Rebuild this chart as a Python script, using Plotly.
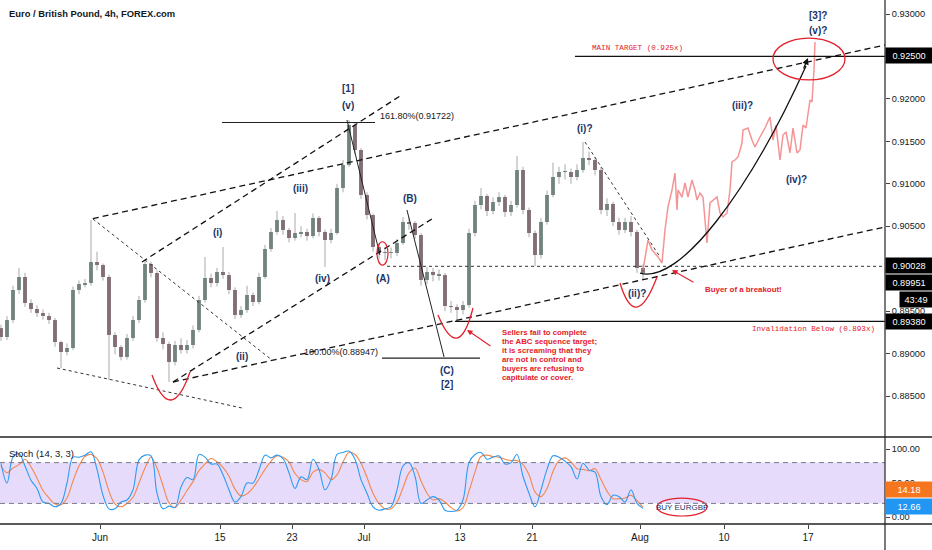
import plotly.graph_objects as go

# ---------------- data ----------------
# x axis in trading days, 0 = Mon 1 Jun
tick_vals = [0, 10, 16, 22, 30, 36, 45, 52, 59]
tick_text = ["Jun", "15", "23", "Jul", "13", "21", "Aug", "10", "17"]

bar_start = -8.25   # first (12h) bar
bar_step = 0.5

first_open = 0.89300
closes = [0.89195, 0.89395, 0.89749, 0.89902, 0.89596, 0.89525, 0.89478, 0.89443, 0.89395, 0.89136,
          0.89018, 0.89066, 0.89749, 0.89819, 0.89831, 0.90079, 0.90043, 0.89902, 0.89219, 0.89077,
          0.88960, 0.89183, 0.89395, 0.89631, 0.90055, 0.89949, 0.89183, 0.89113, 0.88901, 0.89101,
          0.89042, 0.89101, 0.89278, 0.89631, 0.89890, 0.89831, 0.89961, 0.89925, 0.89749, 0.89454,
          0.89513, 0.89690, 0.89607, 0.89902, 0.90232, 0.90432, 0.90573, 0.90456, 0.90361, 0.90420,
          0.90432, 0.90385, 0.90597, 0.90432, 0.90338, 0.90420, 0.90950, 0.91221, 0.91692, 0.91398,
          0.90868, 0.90632, 0.90255, 0.90185, 0.90185, 0.90185, 0.90302, 0.90550, 0.90538, 0.90397,
          0.89867, 0.89961, 0.89925, 0.89925, 0.89560, 0.89549, 0.89513, 0.89572, 0.90420, 0.90750,
          0.90856, 0.90679, 0.90785, 0.90844, 0.90668, 0.90750, 0.91162, 0.90691, 0.90420, 0.90161,
          0.90550, 0.90868, 0.91080, 0.91139, 0.91139, 0.91080, 0.91162, 0.91304, 0.91280, 0.91162,
          0.90691, 0.90762, 0.90550, 0.90456, 0.90550, 0.90432, 0.90008, 0.89951]
highs = [0.89340, 0.89440, 0.89800, 0.90008, 0.89950, 0.89640, 0.89570, 0.89520, 0.89480, 0.89420,
         0.89150, 0.89120, 0.89790, 0.89860, 0.89880, 0.90573, 0.90200, 0.90060, 0.89930, 0.89250,
         0.89100, 0.89230, 0.89440, 0.89680, 0.90102, 0.90080, 0.89980, 0.89250, 0.89140, 0.89150,
         0.89180, 0.89160, 0.89330, 0.89680, 0.90138, 0.89940, 0.90010, 0.90255, 0.89960, 0.89780,
         0.89560, 0.89800, 0.89720, 0.89950, 0.90280, 0.90480, 0.90680, 0.90620, 0.90480, 0.90656,
         0.90500, 0.90470, 0.90650, 0.90620, 0.90460, 0.90470, 0.91000, 0.91280, 0.91751, 0.91720,
         0.91420, 0.90900, 0.90650, 0.90300, 0.90260, 0.90250, 0.90350, 0.90609, 0.90600, 0.90560,
         0.90420, 0.90020, 0.90010, 0.89990, 0.89950, 0.89620, 0.89580, 0.89620, 0.90470, 0.90800,
         0.90950, 0.90880, 0.90840, 0.90900, 0.90870, 0.90800, 0.91330, 0.91200, 0.90720, 0.90450,
         0.90600, 0.90920, 0.91250, 0.91200, 0.91230, 0.91180, 0.91230, 0.91492, 0.91380, 0.91320,
         0.91200, 0.90830, 0.90790, 0.90600, 0.90600, 0.90620, 0.90460, 0.90050]
lows = [0.89150, 0.89160, 0.89360, 0.89700, 0.89550, 0.89480, 0.89430, 0.89400, 0.89350, 0.89080,
        0.88830, 0.88980, 0.89040, 0.89700, 0.89780, 0.89800, 0.89980, 0.89860, 0.88689, 0.88990,
        0.88920, 0.88930, 0.89150, 0.89360, 0.89600, 0.89900, 0.89140, 0.89050, 0.88665, 0.88860,
        0.89000, 0.89000, 0.89060, 0.89250, 0.89600, 0.89780, 0.89790, 0.89880, 0.89700, 0.89407,
        0.89420, 0.89480, 0.89560, 0.89580, 0.89880, 0.90200, 0.90400, 0.90400, 0.90310, 0.90330,
        0.90370, 0.90330, 0.90360, 0.90380, 0.90020, 0.90300, 0.90400, 0.90900, 0.91200, 0.91350,
        0.90820, 0.90580, 0.90200, 0.90110, 0.90100, 0.90120, 0.90150, 0.90280, 0.90460, 0.90350,
        0.89800, 0.89820, 0.89850, 0.89860, 0.89500, 0.89480, 0.89385, 0.89460, 0.89540, 0.90380,
        0.90700, 0.90620, 0.90640, 0.90740, 0.90610, 0.90620, 0.90720, 0.90640, 0.90370, 0.90028,
        0.90120, 0.90520, 0.90840, 0.91000, 0.91050, 0.91000, 0.91040, 0.91130, 0.91220, 0.91100,
        0.90640, 0.90620, 0.90500, 0.90400, 0.90420, 0.90380, 0.89950, 0.89867]

# projected path (pink)
proj_x = [45.25, 45.667, 46.0, 46.25, 46.5, 46.833, 47.083, 47.333, 47.667, 47.917, 48.083, 48.167,
          48.5, 48.75, 49.0, 49.333, 49.583, 49.75, 50.0, 50.25, 50.583, 50.833, 51.083, 51.417,
          51.667, 51.917, 52.25, 52.5, 52.667, 52.917, 53.167, 53.5, 53.583, 54.0, 54.333, 54.583,
          55.0, 55.417, 55.833, 56.083, 56.333, 56.667, 56.917, 57.167, 57.5, 57.75, 58.083, 58.333,
          58.583, 58.833, 59.167, 59.333, 59.5, 59.583]
proj_y = [0.89984, 0.90338, 0.90220, 0.90185, 0.90138, 0.90067, 0.90456, 0.90727, 0.90927, 0.91127,
          0.90691, 0.90927, 0.90844, 0.91009, 0.90844, 0.91045, 0.90927, 0.90809, 0.90891, 0.90844,
          0.90303, 0.90774, 0.90809, 0.90844, 0.90656, 0.90609, 0.90656, 0.90927, 0.91257, 0.91280,
          0.91316, 0.91480, 0.91634, 0.91657, 0.91516, 0.91433, 0.91551, 0.91657, 0.91787, 0.91516,
          0.91692, 0.91280, 0.91575, 0.91610, 0.91363, 0.91657, 0.91363, 0.91398, 0.91692, 0.91657,
          0.91987, 0.91963, 0.92340, 0.92670]

stoch_k = [79, 50, 88, 93, 75, 54, 42, 22, 20, 15,
           20, 50, 88, 88, 91, 96, 70, 32, 12, 12,
           22, 25, 40, 84, 91, 90, 35, 12, 16, 14,
           44, 58, 55, 92, 88, 78, 78, 62, 40, 22,
           30, 50, 50, 69, 91, 87, 91, 86, 65, 42,
           59, 55, 85, 70, 40, 55, 92, 95, 97, 85,
           55, 35, 15, 10, 12, 15, 40, 75, 80, 60,
           20, 25, 30, 25, 10, 8, 10, 25, 80, 92,
           95, 85, 88, 90, 78, 80, 92, 60, 35, 15,
           40, 70, 90, 88, 82, 74, 56, 79, 69, 66,
           30, 18, 32, 30, 22, 40, 20, 12.66]
stoch_d = [75, 65, 72, 77, 85, 74, 57, 39, 28, 19,
           18, 28, 53, 75, 89, 92, 86, 66, 38, 19,
           15, 20, 29, 50, 72, 88, 72, 46, 21, 14,
           25, 39, 52, 68, 78, 86, 81, 73, 60, 41,
           31, 34, 43, 56, 70, 82, 90, 88, 81, 64,
           55, 52, 66, 70, 65, 55, 62, 81, 95, 92,
           79, 58, 35, 20, 12, 12, 22, 43, 65, 72,
           53, 35, 25, 27, 22, 14, 9, 14, 38, 66,
           89, 91, 89, 88, 85, 83, 83, 77, 62, 37,
           30, 42, 67, 83, 87, 81, 71, 70, 68, 71,
           55, 38, 27, 27, 28, 32, 24, 14.18]

# ---------------- build ----------------
bars_x = [bar_start + bar_step * i for i in range(len(closes))]
opens = [first_open] + closes[:-1]

navy = "#1b3568"
red = "#e3202b"
txt = "#131722"
FONT = "Liberation Sans"

fig = go.Figure()

# wicks
wx, wy = [], []
for x, h, l in zip(bars_x, highs, lows):
    wx += [x, x, None]
    wy += [l, h, None]
fig.add_trace(go.Scatter(x=wx, y=wy, mode="lines", line=dict(color="#a9a9ae", width=1),
                         hoverinfo="skip", xaxis="x", yaxis="y"))

up_x, up_b, up_h, dn_x, dn_b, dn_h = [], [], [], [], [], []
for x, o, c in zip(bars_x, opens, closes):
    b = min(o, c)
    h = max(abs(c - o), 0.00005)
    if c >= o:
        up_x.append(x); up_b.append(b); up_h.append(h)
    else:
        dn_x.append(x); dn_b.append(b); dn_h.append(h)
fig.add_trace(go.Bar(x=up_x, y=up_h, base=up_b, width=0.28, marker=dict(color="#3f5a51", line=dict(width=0)),
                     xaxis="x", yaxis="y"))
fig.add_trace(go.Bar(x=dn_x, y=dn_h, base=dn_b, width=0.28, marker=dict(color="#56363d", line=dict(width=0)),
                     xaxis="x", yaxis="y"))

# projection
fig.add_trace(go.Scatter(x=proj_x, y=proj_y, mode="lines",
                         line=dict(color="rgba(240,112,112,0.75)", width=1.5),
                         xaxis="x", yaxis="y"))

# stochastic
fig.add_trace(go.Scatter(x=bars_x, y=stoch_d, mode="lines", line=dict(color="#f4874b", width=1.1, shape="spline"),
                         xaxis="x2", yaxis="y2"))
fig.add_trace(go.Scatter(x=bars_x, y=stoch_k, mode="lines", line=dict(color="#2e9bf0", width=1.1, shape="spline"),
                         xaxis="x2", yaxis="y2"))

shapes = []


def seg(x0, y0, x1, y1, dash=None, width=1.2, color="#111", xref="x", yref="y"):
    d = dict(type="line", x0=x0, y0=y0, x1=x1, y1=y1, xref=xref, yref=yref,
             line=dict(color=color, width=width))
    if dash:
        d["line"]["dash"] = dash
    shapes.append(d)


DASH = "6px,4px"
# dashed channel lines
seg(-0.6, 0.9059, 65.42, 0.92635, DASH, 1.3)
seg(3.5, 0.90079, 25.0, 0.92034, DASH, 1.3)
seg(6.083, 0.88665, 27.917, 0.90609, DASH, 1.3)
seg(6.083, 0.88665, 65.42, 0.90491, DASH, 1.3)
# dotted lines
seg(-0.583, 0.90585, 14.333, 0.88924, "dot", 1, "#333")
seg(-3.583, 0.88830, 11.833, 0.88359, "dot", 1, "#333")
seg(23.917, 0.90028, 65.42, 0.90028, "dot", 1, "#333")
seg(40.417, 0.91492, 46.667, 0.90138, "dot", 1, "#333")
# solid levels / wave legs
seg(10.17, 0.91722, 22.92, 0.91722, None, 1.2, "#222")
seg(23.5, 0.88947, 31.67, 0.88947, None, 1.2, "#222")
seg(39.58, 0.925, 65.42, 0.925, None, 1.3, "#111")
seg(29.58, 0.8938, 65.42, 0.8938, None, 1.3, "#111")
seg(20.58, 0.91751, 23.33, 0.90161, None, 1, "#222")
seg(25.58, 0.90691, 28.67, 0.88960, None, 1, "#222")

# black projected arrow curve
shapes.append(dict(type="path", xref="x", yref="y",
                   path="M 45,0.89949 C 48.333,0.89808 54.167,0.90927 58.833,0.92388",
                   line=dict(color="#111", width=1.3)))
# red smiles
for p in ["M 4.333,0.88748 Q 5.917,0.88141 7.5,0.88783",
          "M 28.167,0.89454 Q 29.875,0.88871 31.083,0.89537",
          "M 43.333,0.89831 Q 44.625,0.89230 46.417,0.89902"]:
    shapes.append(dict(type="path", xref="x", yref="y", path=p, line=dict(color=red, width=1.3)))
# red ellipses
shapes.append(dict(type="circle", xref="x", yref="y", x0=23.083, x1=24.0, y0=0.90043, y1=0.90317,
                   line=dict(color=red, width=1.2)))
shapes.append(dict(type="circle", xref="x", yref="y", x0=56.083, x1=62.083, y0=0.92223, y1=0.92717,
                   line=dict(color=red, width=1.3)))
shapes.append(dict(type="circle", xref="x2", yref="y2", x0=46.417, x1=50.583, y0=1.5, y1=27.9,
                   line=dict(color=red, width=1.2)))

# stoch band
shapes.append(dict(type="rect", xref="x2 domain", yref="y2", x0=0, x1=1, y0=20, y1=80,
                   fillcolor="rgba(160,110,245,0.25)", line=dict(width=0), layer="below"))
for lv in (20, 80):
    shapes.append(dict(type="line", xref="x2 domain", yref="y2", x0=0, x1=1, y0=lv, y1=lv,
                       line=dict(color="#787b86", width=1, dash="5px,4px")))

# frame lines
shapes.append(dict(type="line", xref="paper", yref="paper", x0=1, x1=1, y0=-0.06, y1=1,
                   line=dict(color="#333", width=1.3)))
for yy in (0.166, 0.0):
    shapes.append(dict(type="line", xref="paper", yref="paper", x0=0, x1=1.06, y0=yy, y1=yy,
                       line=dict(color="#222", width=1.5)))

ann = []


def label(x, y, text, size=10.5, color=navy, xanchor="center", yanchor="middle", family=FONT, xref="x", yref="y"):
    ann.append(dict(x=x, y=y, text=text, showarrow=False, xref=xref, yref=yref, xanchor=xanchor,
                    yanchor=yanchor, font=dict(family=family, size=size, color=color)))


# wave labels
for x, y, t in [(20.667, 0.92117, "[1]"), (20.667, 0.91928, "(v)"), (9.833, 0.90432, "(i)"),
                (11.833, 0.88960, "(ii)"), (16.667, 0.90950, "(iii)"), (18.583, 0.89890, "(iv)"),
                (23.583, 0.89890, "(A)"), (25.833, 0.90821, "(B)"), (28.917, 0.88806, "(C)"),
                (28.917, 0.88630, "[2]"), (40.417, 0.91657, "(i)?"), (44.75, 0.89713, "(ii)?"),
                (53.5, 0.91928, "(iii)?"), (58.0, 0.91045, "(iv)?"), (59.833, 0.92800, "(v)?"),
                (59.833, 0.92977, "[3]?")]:
    label(x, y, "<b>" + t + "</b>", size=10)

label(23.167, 0.91799, "161.80%(0.91722)", size=9, color=txt, xanchor="left")
label(23.333, 0.89018, "100.00%(0.88947)", size=9, color=txt, xanchor="right")
label(40.833, 0.92600, "MAIN TARGET (0.925x)", size=7.6, color=red, xanchor="left", family="Liberation Mono")
label(64.75, 0.89290, "Invalidation Below (0.893x)", size=7.6, color=red, xanchor="right", family="Liberation Mono")

sellers = ["Sellers fail to complete", "the ABC sequence target;", "it is screaming that they",
           "are not in control and", "buyers are refusing to", "capitulate or cover."]
sell_y = [0.89254, 0.89148, 0.89042, 0.88936, 0.88830, 0.88724]
for t, y in zip(sellers, sell_y):
    label(33.333, y, "<b>" + t + "</b>", size=7.8, color=red, xanchor="left")
label(50.25, 0.89749, "<b>Buyer of a breakout!</b>", size=7.9, color=red, xanchor="left")

# red arrows
ann.append(dict(x=30.583, y=0.89278, xref="x", yref="y", ax=25, ay=17, showarrow=True, text="",
                arrowhead=2, arrowsize=1, arrowwidth=1.1, arrowcolor=red))
ann.append(dict(x=47.667, y=0.89984, xref="x", yref="y", ax=23, ay=13, showarrow=True, text="",
                arrowhead=2, arrowsize=1, arrowwidth=1.1, arrowcolor=red))
# black arrow head
ann.append(dict(x=59.0, y=0.92482, xref="x", yref="y", ax=-5, ay=12, showarrow=True, text="",
                arrowhead=2, arrowsize=1, arrowwidth=1.3, arrowcolor="#111"))

# stoch texts
label(48.5, 14.7, "BUY EURGBP", size=8, color=navy, xref="x2", yref="y2")
label(7 / 885, (524 - 453) / 524, "Stoch (14, 3, 3)", size=9.5, color=txt, xanchor="left", xref="paper", yref="paper")
label(7 / 885, (524 - 14) / 524, "<b>Euro / British Pound, 4h, FOREX.com</b>", size=9.4, color=txt,
      xanchor="left", xref="paper", yref="paper")


def box(ypx, text, bg, w=44):
    ann.append(dict(x=1.0, y=(524 - ypx) / 524, xref="paper", yref="paper", xanchor="left", yanchor="middle",
                    text=text, showarrow=False, bgcolor=bg, width=w, height=13, align="center", borderpad=1,
                    font=dict(family=FONT, size=9.2, color="white")))


box(56, "0.92500", "#000")
box(265, "0.90028", "#000")
box(282, "0.89951", "#000")
ann.append(dict(x=1.0 + 14 / 885, y=(524 - 299) / 524, xref="paper", yref="paper", xanchor="left", yanchor="middle",
                text="43:49", showarrow=False, bgcolor="#000", width=30, height=13, borderpad=1,
                font=dict(family=FONT, size=9.2, color="white")))
box(321, "0.89380", "#000")
box(489, "14.18", "#f5761f")
box(506, "12.66", "#2196f3")

tickfont = dict(family=FONT, size=9.2, color=txt)
price_ticks = [0.885, 0.890, 0.895, 0.905, 0.910, 0.915, 0.920, 0.930]
fig.update_layout(
    width=932, height=550, margin=dict(l=0, r=47, t=0, b=26, autoexpand=False),
    paper_bgcolor="white", plot_bgcolor="white", showlegend=False, barmode="overlay",
    shapes=shapes, annotations=ann,
    xaxis=dict(domain=[0, 1], range=[-8.333, 65.417], anchor="y", showticklabels=False, showgrid=False,
               zeroline=False, showline=False, ticks=""),
    xaxis2=dict(domain=[0, 1], range=[-8.333, 65.417], anchor="y2", matches="x", tickvals=tick_vals,
                ticktext=tick_text, ticks="outside", ticklen=4, tickcolor="#444",
                tickfont=dict(family=FONT, size=10, color=txt), showgrid=False, zeroline=False, showline=False),
    yaxis=dict(domain=[0.166, 1], range=[0.88017, 0.93165], side="right", anchor="x", tickformat=".5f",
               tickvals=price_ticks, ticks="outside", ticklen=4, tickcolor="#444", tickfont=tickfont,
               showgrid=False, zeroline=False, showline=False, automargin=False),
    yaxis2=dict(domain=[0, 0.1641], range=[-10.3, 116.2], side="right", anchor="x2", tickvals=[0, 50, 100],
                ticktext=["0.00", "50.00", "100.00"], ticks="outside", ticklen=4, tickcolor="#444",
                tickfont=tickfont, showgrid=False, zeroline=False, showline=False, automargin=False),
)

fig.write_html("out.html", config={"displayModeBar": False},
               post_script="document.body.style.margin='0';document.body.style.overflow='hidden';")
